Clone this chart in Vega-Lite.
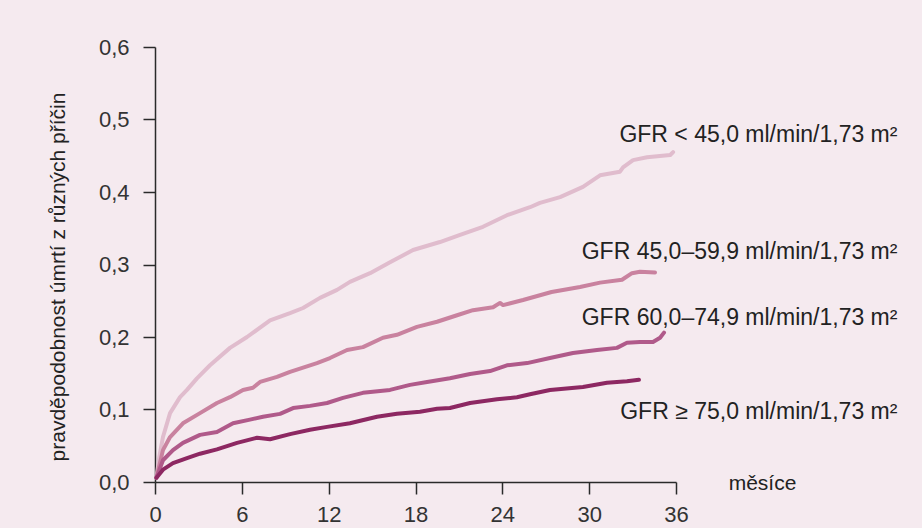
{
  "$schema": "https://vega.github.io/schema/vega-lite/v6.json",
  "width": 521,
  "height": 435,
  "autosize": {"type": "none"},
  "padding": {"left": 155, "top": 47, "right": 246, "bottom": 46},
  "background": "#f5eaef",
  "config": {
    "view": {"stroke": null},
    "font": "Liberation Sans",
    "axis": {
      "grid": false,
      "domainColor": "#2a2a2a",
      "domainWidth": 1.5,
      "tickColor": "#2a2a2a",
      "tickWidth": 1.5,
      "tickSize": 12,
      "labelFont": "Liberation Sans",
      "labelFontSize": 22,
      "labelColor": "#333333",
      "labelFlush": false,
      "labelOverlap": false,
      "labelBound": false,
      "titleFont": "Liberation Sans",
      "titleFontSize": 21,
      "titleFontWeight": "normal",
      "titleColor": "#222222"
    }
  },
  "datasets": {
    "curves": [
      {"g": "a1", "m": 0.1, "v": 0.006}, {"g": "a1", "m": 0.3, "v": 0.035}, {"g": "a1", "m": 0.55, "v": 0.062}, {"g": "a1", "m": 1.04, "v": 0.095}, {"g": "a1", "m": 1.73, "v": 0.117}, {"g": "a1", "m": 2.21, "v": 0.127}, {"g": "a1", "m": 2.9, "v": 0.143}, {"g": "a1", "m": 3.8, "v": 0.161}, {"g": "a1", "m": 5.18, "v": 0.185}, {"g": "a1", "m": 6.36, "v": 0.2}, {"g": "a1", "m": 7.95, "v": 0.223}, {"g": "a1", "m": 9.33, "v": 0.233}, {"g": "a1", "m": 10.23, "v": 0.24}, {"g": "a1", "m": 11.4, "v": 0.254}, {"g": "a1", "m": 12.58, "v": 0.265}, {"g": "a1", "m": 13.47, "v": 0.276}, {"g": "a1", "m": 14.86, "v": 0.288}, {"g": "a1", "m": 16.24, "v": 0.303}, {"g": "a1", "m": 17.83, "v": 0.32}, {"g": "a1", "m": 19.69, "v": 0.331}, {"g": "a1", "m": 21.08, "v": 0.341}, {"g": "a1", "m": 22.66, "v": 0.352}, {"g": "a1", "m": 24.32, "v": 0.368}, {"g": "a1", "m": 25.91, "v": 0.379}, {"g": "a1", "m": 26.6, "v": 0.385}, {"g": "a1", "m": 27.99, "v": 0.393}, {"g": "a1", "m": 29.57, "v": 0.407}, {"g": "a1", "m": 30.75, "v": 0.423}, {"g": "a1", "m": 32.13, "v": 0.428}, {"g": "a1", "m": 32.34, "v": 0.434}, {"g": "a1", "m": 33.03, "v": 0.444}, {"g": "a1", "m": 34.0, "v": 0.448}, {"g": "a1", "m": 35.6, "v": 0.451}, {"g": "a1", "m": 35.8, "v": 0.455},
      {"g": "a2", "m": 0.1, "v": 0.006}, {"g": "a2", "m": 0.55, "v": 0.044}, {"g": "a2", "m": 1.04, "v": 0.062}, {"g": "a2", "m": 1.93, "v": 0.081}, {"g": "a2", "m": 3.11, "v": 0.095}, {"g": "a2", "m": 4.28, "v": 0.109}, {"g": "a2", "m": 5.18, "v": 0.117}, {"g": "a2", "m": 6.08, "v": 0.127}, {"g": "a2", "m": 6.77, "v": 0.13}, {"g": "a2", "m": 7.26, "v": 0.138}, {"g": "a2", "m": 8.43, "v": 0.145}, {"g": "a2", "m": 9.33, "v": 0.152}, {"g": "a2", "m": 11.19, "v": 0.164}, {"g": "a2", "m": 12.09, "v": 0.171}, {"g": "a2", "m": 13.27, "v": 0.182}, {"g": "a2", "m": 14.37, "v": 0.186}, {"g": "a2", "m": 15.75, "v": 0.199}, {"g": "a2", "m": 16.72, "v": 0.203}, {"g": "a2", "m": 18.1, "v": 0.214}, {"g": "a2", "m": 19.49, "v": 0.221}, {"g": "a2", "m": 20.87, "v": 0.23}, {"g": "a2", "m": 21.97, "v": 0.237}, {"g": "a2", "m": 23.36, "v": 0.241}, {"g": "a2", "m": 23.84, "v": 0.247}, {"g": "a2", "m": 24.05, "v": 0.244}, {"g": "a2", "m": 25.43, "v": 0.251}, {"g": "a2", "m": 27.4, "v": 0.262}, {"g": "a2", "m": 29.37, "v": 0.269}, {"g": "a2", "m": 30.75, "v": 0.275}, {"g": "a2", "m": 32.27, "v": 0.279}, {"g": "a2", "m": 32.96, "v": 0.288}, {"g": "a2", "m": 33.51, "v": 0.29}, {"g": "a2", "m": 34.55, "v": 0.289},
      {"g": "a3", "m": 0.1, "v": 0.006}, {"g": "a3", "m": 0.55, "v": 0.03}, {"g": "a3", "m": 1.24, "v": 0.044}, {"g": "a3", "m": 1.93, "v": 0.054}, {"g": "a3", "m": 3.11, "v": 0.065}, {"g": "a3", "m": 4.28, "v": 0.069}, {"g": "a3", "m": 5.39, "v": 0.081}, {"g": "a3", "m": 6.56, "v": 0.086}, {"g": "a3", "m": 7.46, "v": 0.09}, {"g": "a3", "m": 8.64, "v": 0.094}, {"g": "a3", "m": 9.54, "v": 0.102}, {"g": "a3", "m": 10.71, "v": 0.105}, {"g": "a3", "m": 11.89, "v": 0.109}, {"g": "a3", "m": 12.99, "v": 0.116}, {"g": "a3", "m": 14.37, "v": 0.123}, {"g": "a3", "m": 16.24, "v": 0.127}, {"g": "a3", "m": 17.62, "v": 0.134}, {"g": "a3", "m": 18.8, "v": 0.138}, {"g": "a3", "m": 20.38, "v": 0.143}, {"g": "a3", "m": 21.77, "v": 0.149}, {"g": "a3", "m": 23.15, "v": 0.153}, {"g": "a3", "m": 24.32, "v": 0.161}, {"g": "a3", "m": 25.71, "v": 0.164}, {"g": "a3", "m": 27.29, "v": 0.171}, {"g": "a3", "m": 28.88, "v": 0.178}, {"g": "a3", "m": 30.54, "v": 0.182}, {"g": "a3", "m": 31.92, "v": 0.185}, {"g": "a3", "m": 32.61, "v": 0.192}, {"g": "a3", "m": 33.51, "v": 0.193}, {"g": "a3", "m": 34.41, "v": 0.193}, {"g": "a3", "m": 34.9, "v": 0.199}, {"g": "a3", "m": 35.17, "v": 0.206},
      {"g": "a4", "m": 0.1, "v": 0.006}, {"g": "a4", "m": 0.55, "v": 0.017}, {"g": "a4", "m": 1.24, "v": 0.026}, {"g": "a4", "m": 2.21, "v": 0.033}, {"g": "a4", "m": 3.11, "v": 0.039}, {"g": "a4", "m": 4.28, "v": 0.045}, {"g": "a4", "m": 5.67, "v": 0.054}, {"g": "a4", "m": 7.05, "v": 0.061}, {"g": "a4", "m": 7.95, "v": 0.059}, {"g": "a4", "m": 9.33, "v": 0.066}, {"g": "a4", "m": 10.71, "v": 0.072}, {"g": "a4", "m": 11.89, "v": 0.076}, {"g": "a4", "m": 13.47, "v": 0.081}, {"g": "a4", "m": 15.34, "v": 0.09}, {"g": "a4", "m": 16.72, "v": 0.094}, {"g": "a4", "m": 18.31, "v": 0.097}, {"g": "a4", "m": 19.49, "v": 0.101}, {"g": "a4", "m": 20.38, "v": 0.102}, {"g": "a4", "m": 21.77, "v": 0.109}, {"g": "a4", "m": 23.63, "v": 0.114}, {"g": "a4", "m": 25.01, "v": 0.117}, {"g": "a4", "m": 25.91, "v": 0.121}, {"g": "a4", "m": 27.29, "v": 0.127}, {"g": "a4", "m": 29.57, "v": 0.131}, {"g": "a4", "m": 31.23, "v": 0.137}, {"g": "a4", "m": 32.61, "v": 0.139}, {"g": "a4", "m": 33.44, "v": 0.141}
    ],
    "labels": [
      {"m": 51.3, "v": 0.479, "t": "GFR < 45,0 ml/min/1,73 m²"},
      {"m": 51.3, "v": 0.317, "t": "GFR 45,0–59,9 ml/min/1,73 m²"},
      {"m": 51.3, "v": 0.226, "t": "GFR 60,0–74,9 ml/min/1,73 m²"},
      {"m": 51.3, "v": 0.0966, "t": "GFR ≥ 75,0 ml/min/1,73 m²"}
    ]
  },
  "encoding": {
    "x": {
      "field": "m",
      "type": "quantitative",
      "scale": {"domain": [0, 36], "nice": false, "zero": false},
      "axis": {
        "values": [0, 6, 12, 18, 24, 30, 36],
        "labelPadding": 10,
        "title": "měsíce",
        "titleX": 607,
        "titleY": 1,
        "titleAlign": "center",
        "titleBaseline": "middle"
      }
    },
    "y": {
      "field": "v",
      "type": "quantitative",
      "scale": {"domain": [0, 0.6], "nice": false},
      "axis": {
        "values": [0, 0.1, 0.2, 0.3, 0.4, 0.5, 0.6],
        "labelExpr": "replace(format(datum.value, '.1f'), '.', ',')",
        "labelPadding": 14,
        "title": "pravděpodobnost úmrtí z různých příčin",
        "titleAngle": 270,
        "titleX": -91,
        "titleY": 229.5,
        "titleAlign": "center",
        "titleBaseline": "alphabetic"
      }
    }
  },
  "layer": [
    {
      "data": {"name": "curves"},
      "mark": {"type": "line", "strokeWidth": 4, "strokeCap": "round", "strokeJoin": "round"},
      "encoding": {
        "color": {
          "field": "g",
          "type": "nominal",
          "scale": {"domain": ["a1", "a2", "a3", "a4"], "range": ["#e0bccd", "#c9829f", "#b05a8a", "#8d2862"]},
          "legend": null
        }
      }
    },
    {
      "data": {"name": "labels"},
      "mark": {"type": "text", "align": "right", "baseline": "middle", "fontSize": 23, "font": "Liberation Sans", "color": "#222222"},
      "encoding": {"text": {"field": "t"}}
    }
  ]
}
